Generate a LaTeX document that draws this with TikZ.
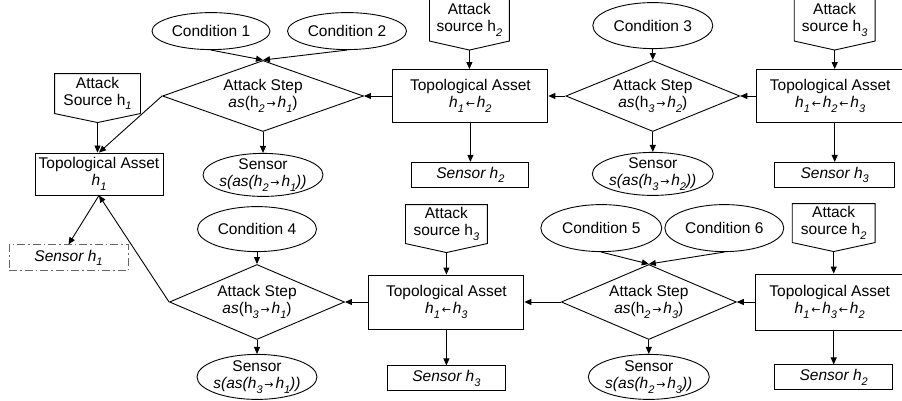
\documentclass[tikz,border=0pt]{standalone}
\usepackage{fontspec}
\setmainfont{Liberation Sans}
\newfontfamily\arrowfont{DejaVu Sans}
\usepackage{tikz}
\usetikzlibrary{positioning}
\usetikzlibrary{shapes.geometric, arrows.meta, calc}
\newcommand{\hidx}[1]{\raisebox{-4.5pt}{\fontsize{11}{11}\selectfont\itshape #1}}
\newcommand{\rto}{{\fontsize{11}{11}\arrowfont\,→\,}}
\newcommand{\lto}{{\fontsize{11}{11}\arrowfont\,←\,}}

\begin{document}
\begin{tikzpicture}[x=1pt, y=-1pt]
	\tikzstyle{base} = [font=\fontsize{15.5}{17}\selectfont, align=center, line width=0.9pt]
	\tikzstyle{asset} = [base, draw, rectangle, inner sep=2pt, minimum width=155pt, minimum height=53pt]
	\tikzstyle{probe} = [base, draw, rectangle, inner sep=2pt, minimum width=118pt, minimum height=25pt]
	\tikzstyle{attack} = [base, draw, diamond, shape aspect=2.4, inner sep=-4pt, minimum width=175pt, minimum height=75pt]
	\tikzstyle{cond} = [base, draw, ellipse, inner xsep=-20pt, inner ysep=-6pt, minimum width=119pt, minimum height=45pt]
	\tikzstyle{sensor} = [cond, minimum width=120pt, minimum height=45pt]
	\tikzstyle{source} = [base, inner sep=0pt, minimum width=81pt, minimum height=39pt]
	\tikzstyle{edge} = [line width=0.9pt, -{Triangle[length=7pt, width=6pt]}]

	\useasboundingbox (0,0) rectangle (902,401);

	% upper chain
	\node (1) [asset, minimum width=128pt, minimum height=42pt] at (99,174) {Topological Asset\\\textit{h}\hidx{1}};
	\node (2) [source, minimum width=85pt, above=39pt of 1, xshift=-1.5pt] {Attack\\Source h\hidx{1}};
	\node (3) [probe, draw=gray!80!black, dash pattern=on 8pt off 3pt on 1.5pt off 3pt, minimum width=119pt, minimum height=26pt, below=49pt of 1, xshift=-30.5pt] {\textit{Sensor h}\hidx{1}};

	\node (4) [attack, shape aspect=2.8, minimum width=201pt, minimum height=71pt] at (263,96) {Attack Step\\\textit{as}(h\hidx{2}\rto\textit{h}\hidx{1})};
	\node (5) [cond, minimum width=118pt, minimum height=37pt, above=10pt of 4, xshift=-52pt] {Condition 1};
	\node (6) [cond, minimum width=119pt, minimum height=37pt, above=10pt of 4, xshift=84pt] {Condition 2};
	\node (7) [sensor, minimum height=43pt, below=21pt of 4] {Sensor\\\textit{s(as(h\hidx{2}\rto h\hidx{1}))}};

	\node (8) [asset, right=28.5pt of 4] {Topological Asset\\\textit{h}\hidx{1}\lto\textit{h}\hidx{2}};
	\node (9) [source, minimum width=79pt, minimum height=41pt, above=28pt of 8, xshift=-1pt] {Attack\\source h\hidx{2}};
	\node (10) [probe, minimum width=117pt, below=39pt of 8] {\textit{Sensor h}\hidx{2}};

	\node (11) [attack, minimum width=174pt, minimum height=71pt, right=17pt of 8] {Attack Step\\\textit{as}(h\hidx{3}\rto\textit{h}\hidx{2})};
	\node (12) [cond, minimum width=120pt, minimum height=46pt, above=11pt of 11] {Condition 3};
	\node (13) [sensor, minimum width=121pt, minimum height=43pt, below=20pt of 11] {Sensor\\\textit{s(as(h\hidx{3}\rto h\hidx{2}))}};

	\node (14) [asset, minimum width=147pt, right=16pt of 11] {Topological Asset\\\textit{h}\hidx{1}\lto\textit{h}\hidx{2}\lto\textit{h}\hidx{3}};
	\node (15) [source, minimum width=80pt, minimum height=41pt, above=28pt of 14, xshift=4.5pt] {Attack\\source h\hidx{3}};
	\node (16) [probe, minimum width=120pt, below=39pt of 14, xshift=4.5pt] {\textit{Sensor h}\hidx{3}};

	% lower chain
	\node (17) [attack] at (257,302) {Attack Step\\\textit{as}(h\hidx{3}\rto\textit{h}\hidx{1})};
	\node (18) [cond, above=12pt of 17] {Condition 4};
	\node (19) [sensor, below=14pt of 17] {Sensor\\\textit{s(as(h\hidx{3}\rto h\hidx{1}))}};

	\node (20) [asset, minimum height=54pt, right=23.5pt of 17] {Topological Asset\\\textit{h}\hidx{1}\lto\textit{h}\hidx{3}};
	\node (21) [source, minimum height=38pt, above=31pt of 20] {Attack\\source h\hidx{3}};
	\node (22) [probe, below=36pt of 20] {\textit{Sensor h}\hidx{3}};

	\node (23) [attack, right=36.5pt of 20] {Attack Step\\\textit{as}(h\hidx{2}\rto\textit{h}\hidx{3})};
	\node (24) [cond, minimum width=121pt, minimum height=47pt, above=12pt of 23, xshift=-47.5pt] {Condition 5};
	\node (25) [cond, minimum height=47pt, above=12pt of 23, xshift=75.5pt] {Condition 6};
	\node (26) [sensor, minimum width=121pt, below=14pt of 23] {Sensor\\\textit{s(as(h\hidx{2}\rto h\hidx{3}))}};

	\node (27) [asset, minimum width=148pt, minimum height=56pt, right=18.5pt of 23] {Topological Asset\\\textit{h}\hidx{1}\lto\textit{h}\hidx{3}\lto\textit{h}\hidx{2}};
	\node (28) [source, minimum width=82pt, minimum height=38pt, above=31pt of 27, xshift=4pt] {Attack\\source h\hidx{2}};
	\node (29) [probe, below=34pt of 27, xshift=4pt] {\textit{Sensor h}\hidx{2}};

	% pointed attack source boxes
	\foreach \s in {2,9,15,21,28} {
		\draw [line width=0.9pt] (\s.north west) -- (\s.north east) -- (\s.south east) -- ($(\s.south)+(0,9)$) -- (\s.south west) -- cycle;
		\coordinate (t\s) at ($(\s.south)+(0,9)$);
	}

	\draw (t2) edge [edge] (t2 |- 1.north);
	\draw (4.west) edge [edge] (1.north);
	\draw (1.south) edge [edge] (3.north);
	\draw (5.south) edge [edge] (4.north);
	\draw (6.south) edge [edge] (4.north);
	\draw (4.south) edge [edge] (7.north);
	\draw (8.west) edge [edge] (4.east);
	\draw (t9) edge [edge] (t9 |- 8.north);
	\draw (8.south) edge [edge] (10.north);
	\draw (11.west) edge [edge] (8.east);
	\draw (12.south) edge [edge] (11.north);
	\draw (11.south) edge [edge] (13.north);
	\draw (14.west) edge [edge] (11.east);
	\draw (t15) edge [edge] (t15 |- 14.north);
	\draw (16.north |- 14.south) edge [edge] (16.north);

	\draw (17.west) edge [edge] (1.south);
	\draw (18.south) edge [edge] (17.north);
	\draw (17.south) edge [edge] (19.north);
	\draw (20.west) edge [edge] (17.east);
	\draw (t21) edge [edge] (t21 |- 20.north);
	\draw (20.south) edge [edge] (22.north);
	\draw (23.west) edge [edge] (20.east);
	\draw (24.south) edge [edge] (23.north);
	\draw (25.south) edge [edge] (23.north);
	\draw (23.south) edge [edge] (26.north);
	\draw (27.west) edge [edge] (23.east);
	\draw (t28) edge [edge] (t28 |- 27.north);
	\draw (29.north |- 27.south) edge [edge] (29.north);
\end{tikzpicture}
\end{document}
